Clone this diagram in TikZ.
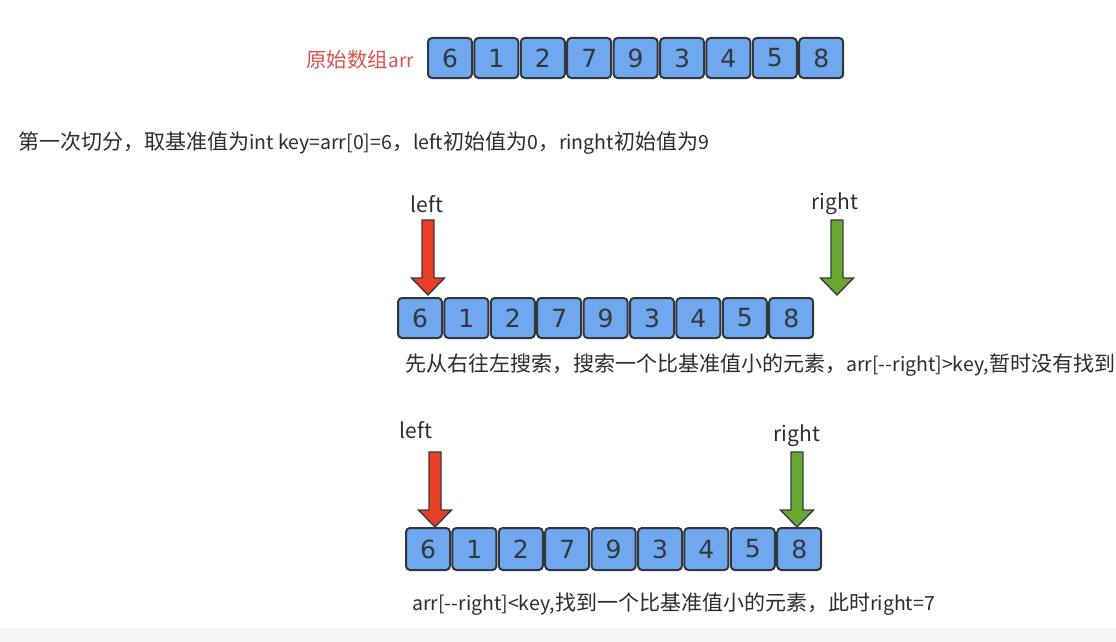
\documentclass[tikz,border=0pt]{standalone}
\usepackage{fontspec}
\setmainfont{Noto Sans CJK SC}
\newfontfamily\cjkf[Scale=1.077]{Noto Sans CJK SC}
\newfontfamily\digf{DejaVu Sans}
\newcommand\zh[1]{{\cjkf #1}}
\definecolor{boxblue}{RGB}{112,168,240}
\definecolor{boxline}{RGB}{50,55,60}
\definecolor{numgray}{RGB}{50,55,62}
\definecolor{txtgray}{RGB}{45,45,45}
\definecolor{labred}{RGB}{222,82,78}
\definecolor{arrred}{RGB}{232,62,40}
\definecolor{arrgreen}{RGB}{104,168,50}
\definecolor{arrline}{RGB}{60,60,60}
\tikzset{
  cell/.style={draw=boxline, fill=boxblue, line width=2pt, rounded corners=4pt,
    minimum width=44pt, minimum height=40pt, inner sep=0pt,
    font=\digf\fontsize{25}{25}\selectfont, text=numgray},
  txt/.style={font=\fontsize{19.5}{19.5}\selectfont, text=txtgray, inner sep=0pt, anchor=west},
  ptrlab/.style={font=\fontsize{21}{21}\selectfont, text=txtgray, inner sep=0pt},
  ptr/.style={draw=arrline, line width=1.4pt, line join=miter}
}
\newcommand\downptr[5]{% name, x, ytop, ytip, colour
  \coordinate (#1) at (#2,#4);
  \filldraw[ptr, fill=#5] (#2-6,#3) -- (#2+6,#3) -- (#2+6,#4-17) -- (#2+16.5,#4-17)
    -- (#2,#4) -- (#2-16.5,#4-17) -- (#2-6,#4-17) -- cycle;}
\begin{document}
\begin{tikzpicture}[x=1pt,y=-1pt]
\useasboundingbox[fill=white] (0,0) rectangle (1116,642);
\fill[black!4] (0,628) rectangle (1116,642);
% row 1
\node[anchor=east, font=\fontsize{19}{19}\selectfont, text=labred, inner sep=0pt] (orig) at (414,60) {\zh{原始数组}arr};
\foreach \v [count=\i] in {6,1,2,7,9,3,4,5,8}
  \node[cell] (a\i) at ({428+22+(\i-1)*46.4},58) {\v};
\node[txt] (t1) at (18,143) {\zh{第一次切分，取基准值为}int key=arr[0]=6\zh{，}left\zh{初始值为}0\zh{，}ringht\zh{初始值为}9};
% row 2
\foreach \v [count=\i] in {6,1,2,7,9,3,4,5,8}
  \node[cell] (b\i) at ({398+22+(\i-1)*46.4},318) {\v};
\node[ptrlab] (bl) at (427,204) {left};
\node[ptrlab] (br) at (835,204) {right};
\downptr{bla}{428}{220}{295}{arrred}
\downptr{bra}{837}{220}{295}{arrgreen}
\node[txt] (t2) at (405,365) {\zh{先从右往左搜索，搜索一个比基准值小的元素，}arr[{-}{-}right]>key,\zh{暂时没有找到}};
% row 3
\foreach \v [count=\i] in {6,1,2,7,9,3,4,5,8}
  \node[cell, minimum height=42pt] (c\i) at ({406+22+(\i-1)*46.4},549) {\v};
\node[ptrlab] (cl) at (416,430) {left};
\node[ptrlab] (cr) at (797,436) {right};
\downptr{cla}{435}{452}{527}{arrred}
\downptr{cra}{797}{452}{527}{arrgreen}
\node[txt] (t3) at (412,604) {arr[{-}{-}right]<key,\zh{找到一个比基准值小的元素，此时}right=7};
\end{tikzpicture}
\end{document}
